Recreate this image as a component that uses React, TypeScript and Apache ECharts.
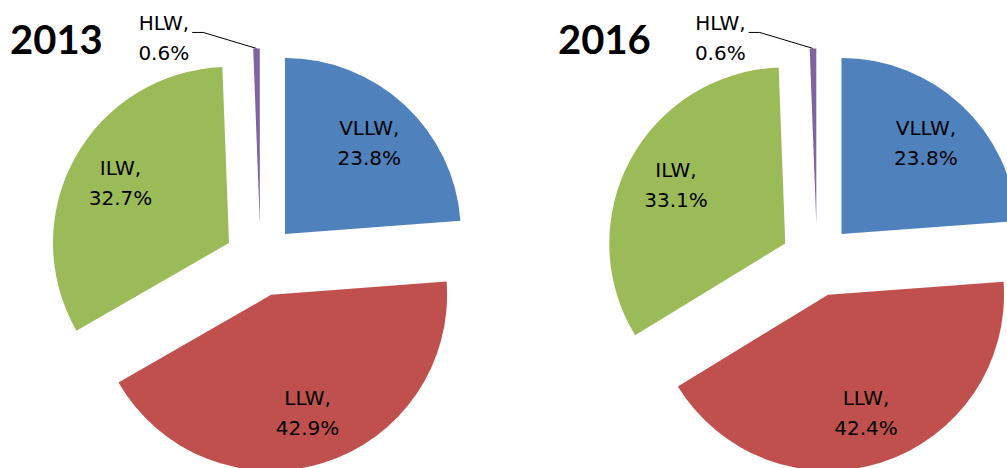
import React, { useEffect, useRef } from 'react';
import * as echarts from 'echarts';

const categories = ['VLLW', 'LLW', 'ILW', 'HLW'];
const years = ['2013', '2016'];
const values2013 = [23.8, 42.9, 32.7, 0.6];
const values2016 = [23.8, 42.4, 33.1, 0.6];
const colors = ['#4F81BD', '#C0504D', '#9BBB59', '#8064A2'];

export default function App() {
  const ref = useRef<HTMLDivElement>(null);
  useEffect(() => {
    const chart = echarts.init(ref.current!, null, { renderer: 'svg' });
    const centers = [[260.5, 260.4], [817, 260.4]];
    const titleLeft = [10, 558];
    const valueSets = [values2013, values2016];
    const R = 176;
    const OFFSET = 36;
    const labelFont = { fontFamily: 'DejaVu Sans', fontSize: 20, color: '#000', lineHeight: 30 };
    const series: any[] = [];
    valueSets.forEach((vals, i) => {
      const mainData = categories.map((name, j) => ({
        name,
        value: vals[j],
        selected: true,
        itemStyle: { color: colors[j] },
        label: name === 'HLW'
          ? { show: true, position: 'outside', formatter: '{b},\n{c}%', ...labelFont, padding: [16, 0, 0, 0] }
          : { show: false },
        labelLine: name === 'HLW'
          ? { show: true, length: 16, length2: 53, lineStyle: { color: '#000', width: 1 } }
          : { show: false },
      }));
      series.push({
        type: 'pie',
        center: centers[i],
        radius: R,
        startAngle: 90,
        clockwise: true,
        selectedMode: 'multiple',
        selectedOffset: OFFSET,
        avoidLabelOverlap: false,
        itemStyle: { borderWidth: 0 },
        select: { itemStyle: { borderWidth: 0 } },
        emphasis: { disabled: true },
        labelLayout: (params: any) => {
          const pts = params.labelLinePoints;
          if (!pts || pts.length < 3) return { dy: 6 };
          return {
            dx: -9,
            dy: 6,
            labelLinePoints: [pts[0], [pts[2][0], pts[2][1]], [pts[2][0] - 11, pts[2][1]]],
          };
        },
        data: mainData,
      });
      const labelData = categories.map((name, j) => ({
        name,
        value: vals[j],
        selected: true,
        label: name === 'HLW'
          ? { show: false }
          : { show: true, position: 'inside', formatter: '{b},\n{c}%', ...labelFont },
      }));
      series.push({
        type: 'pie',
        center: centers[i],
        radius: [66, R],
        startAngle: 90,
        clockwise: true,
        silent: true,
        selectedMode: 'multiple',
        selectedOffset: OFFSET,
        avoidLabelOverlap: false,
        itemStyle: { color: 'rgba(0,0,0,0)', borderWidth: 0 },
        select: { itemStyle: { borderWidth: 0, color: 'rgba(0,0,0,0)' } },
        emphasis: { disabled: true },
        labelLine: { show: false },
        data: labelData,
      });
    });
    chart.setOption({
      animation: false,
      backgroundColor: '#ffffff',
      title: years.map((y, i) => ({
        text: y,
        left: titleLeft[i],
        top: 19,
        padding: 0,
        textStyle: { fontFamily: 'Lato', fontWeight: 'bold', fontSize: 40, color: '#000' },
      })),
      series,
    });
    return () => chart.dispose();
  }, []);
  return <div ref={ref} style={{ position: 'absolute', left: 0, top: 0, width: 1007, height: 468 }} />;
}
